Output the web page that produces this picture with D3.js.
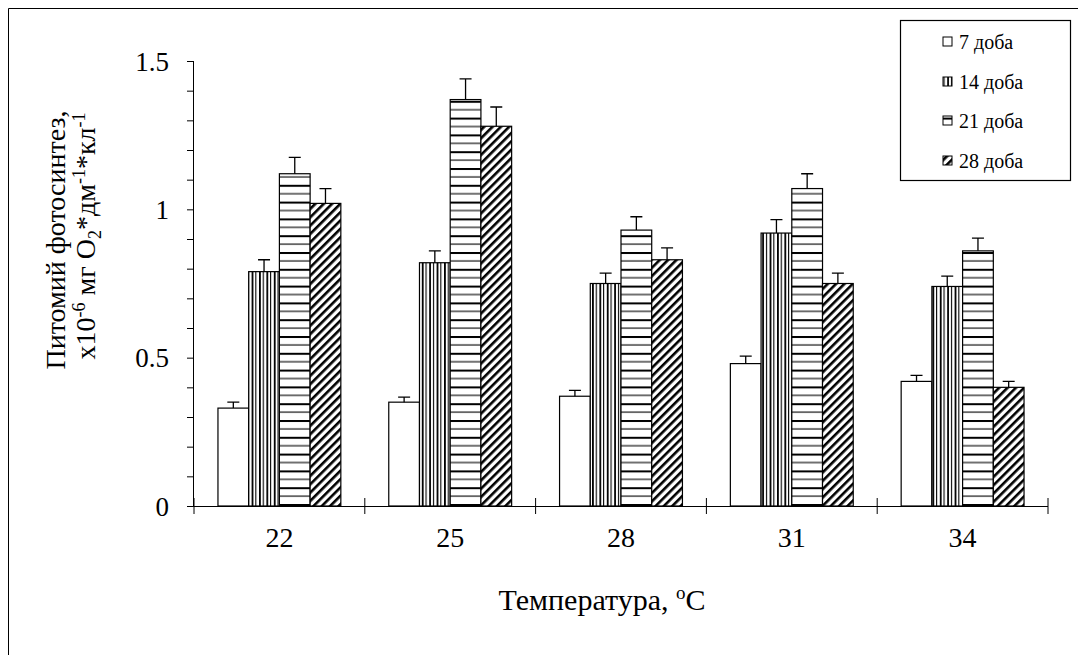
<!DOCTYPE html>
<meta charset="utf-8">
<body style="margin:0;background:#fff">
<script src="https://d3js.org/d3.v7.min.js"></script>
<script>

// data
var temps = ["22", "25", "28", "31", "34"];
var series = ["7 доба", "14 доба", "21 доба", "28 доба"];
var day7  = [0.33, 0.35, 0.37, 0.48, 0.42];
var day14 = [0.79, 0.82, 0.75, 0.92, 0.74];
var day21 = [1.12, 1.37, 0.93, 1.07, 0.86];
var day28 = [1.02, 1.28, 0.83, 0.75, 0.40];
var err7  = [0.02, 0.017, 0.02, 0.025, 0.02];
var err14 = [0.04, 0.04, 0.035, 0.045, 0.035];
var err21 = [0.055, 0.07, 0.045, 0.05, 0.043];
var err28 = [0.05, 0.065, 0.04, 0.035, 0.02];
var yTicks = [0, 0.5, 1, 1.5];

var values = [day7, day14, day21, day28];
var errors = [err7, err14, err21, err28];
var fills = ["#fff", "url(#vert)", "url(#horiz)", "url(#diag)"];

var W = 1078, H = 655;
var margin = {left: 194, right: 30, top: 61, bottom: 149};

var svg = d3.select("body").append("svg")
    .attr("width", W)
    .attr("height", H)
    .style("font-family", "'Liberation Serif', 'Times New Roman', serif");

// patterns
var defs = svg.append("defs");
defs.append("pattern").attr("id", "vert")
    .attr("patternUnits", "userSpaceOnUse").attr("width", 7.4).attr("height", 10)
  .call(function(p) {
    p.append("rect").attr("width", 7.4).attr("height", 10).attr("fill", "#fff");
    p.append("rect").attr("x", 0).attr("width", 1.8).attr("height", 10).attr("fill", "#000");
    p.append("rect").attr("x", 3.7).attr("width", 1.1).attr("height", 10).attr("fill", "#000");
  });
defs.append("pattern").attr("id", "horiz")
    .attr("patternUnits", "userSpaceOnUse").attr("width", 10).attr("height", 16.8)
  .call(function(p) {
    p.append("rect").attr("width", 10).attr("height", 16.8).attr("fill", "#fff");
    p.append("rect").attr("y", 0).attr("width", 10).attr("height", 2).attr("fill", "#000");
    p.append("rect").attr("y", 8.4).attr("width", 10).attr("height", 1.1).attr("fill", "#000");
  });
defs.append("pattern").attr("id", "diag")
    .attr("patternUnits", "userSpaceOnUse").attr("width", 5.9).attr("height", 5.9)
    .attr("patternTransform", "rotate(45)")
  .call(function(p) {
    p.append("rect").attr("width", 5.9).attr("height", 5.9).attr("fill", "#fff");
    p.append("rect").attr("width", 2.6).attr("height", 5.9).attr("fill", "#000");
  });

// outer frame (right and bottom edges fall outside the picture)
svg.append("path")
    .attr("d", "M8.5," + (H + 5) + "V8.5H" + (W + 5))
    .attr("fill", "none").attr("stroke", "#000").attr("stroke-width", 1);

var x = d3.scaleBand().domain(temps).range([margin.left, W - margin.right]);
var xs = d3.scaleBand().domain(d3.range(series.length))
    .range([0, x.bandwidth()]).paddingOuter(0.78).paddingInner(0);
var y = d3.scaleLinear().domain([0, 1.5]).range([H - margin.bottom, margin.top]);

// bars
series.forEach(function(s, i) {
  var g = svg.append("g");
  g.selectAll("rect").data(temps).enter().append("rect")
      .attr("x", function(t) { return x(t) + xs(i); })
      .attr("y", function(t, j) { return y(values[i][j]); })
      .attr("width", xs.bandwidth())
      .attr("height", function(t, j) { return y(0) - y(values[i][j]); })
      .attr("fill", fills[i])
      .attr("stroke", "#000").attr("stroke-width", 1.2);
  // error bars
  g.selectAll("path").data(temps).enter().append("path")
      .attr("d", function(t, j) {
        var cx = x(t) + xs(i) + xs.bandwidth() / 2;
        var y0 = y(values[i][j]), y1 = y(values[i][j] + errors[i][j]);
        return "M" + cx + "," + y0 + "V" + y1 + "M" + (cx - 6) + "," + y1 + "H" + (cx + 6);
      })
      .attr("fill", "none").attr("stroke", "#000").attr("stroke-width", 1.3);
});

// y axis
var yAxis = svg.append("g")
    .attr("transform", "translate(" + margin.left + ",0)")
    .call(d3.axisLeft(y).tickValues(d3.range(0, 1.51, 0.1)).tickSize(7)
      .tickFormat(function(d) {
        var r = Math.round(d * 10) / 10;
        return yTicks.indexOf(r) >= 0 ? d3.format("")(r) : "";
      }))
    .attr("font-family", null).attr("font-size", null);
yAxis.select(".domain").attr("d", "M-0.5," + y(1.5) + "V" + y(0));
yAxis.selectAll("text").attr("x", -25).attr("dy", "0.34em")
    .style("font-size", "27px").attr("fill", "#000");

// x axis
var xAxis = svg.append("g")
    .attr("transform", "translate(0," + y(0) + ")")
    .call(d3.axisBottom(x).tickSize(0).tickPadding(21))
    .attr("font-family", null).attr("font-size", null);
xAxis.select(".domain").attr("d", "M" + (margin.left - 7) + ",0.5H" + (W - margin.right));
xAxis.selectAll("text").style("font-size", "28px");
var edges = temps.map(function(t) { return x(t); }).concat([W - margin.right]);
xAxis.selectAll(".edge").data(edges).enter().append("line")
    .attr("x1", function(d) { return d; }).attr("x2", function(d) { return d; })
    .attr("y1", -8).attr("y2", 8).attr("stroke", "#000");

// axis titles
var xt = svg.append("text")
    .attr("x", 602).attr("y", 610)
    .attr("text-anchor", "middle").style("font-size", "30px");
xt.append("tspan").text("Температура, ");
xt.append("tspan").attr("dy", -11).style("font-size", "19px").text("o");
xt.append("tspan").attr("dy", 11).text("C");

var yl = svg.append("text")
    .attr("transform", "translate(65,240) rotate(-90)")
    .attr("text-anchor", "middle").style("font-size", "28px");
yl.append("tspan").attr("x", 0).attr("y", 0).text("Питомий фотосинтез,");
var l2 = svg.append("text")
    .attr("transform", "translate(95,236) rotate(-90)")
    .attr("text-anchor", "middle").style("font-size", "28px");
l2.append("tspan").text("x10");
l2.append("tspan").attr("dy", -10).style("font-size", "18px").text("-6");
l2.append("tspan").attr("dy", 10).text(" мг O");
l2.append("tspan").attr("dy", 6).style("font-size", "18px").text("2");
l2.append("tspan").attr("dy", -6).text("*дм");
l2.append("tspan").attr("dy", -10).style("font-size", "18px").text("-1");
l2.append("tspan").attr("dy", 10).text("*кл");
l2.append("tspan").attr("dy", -10).style("font-size", "18px").text("-1");

// legend
var lg = svg.append("g");
lg.append("rect").attr("x", 900.5).attr("y", 20.5).attr("width", 170).attr("height", 160)
    .attr("fill", "#fff").attr("stroke", "#000").attr("stroke-width", 1.2);
var rows = [42, 82, 121, 161];
series.forEach(function(s, i) {
  lg.append("rect").attr("x", 943).attr("y", rows[i] - 5).attr("width", 9).attr("height", 9)
      .attr("fill", fills[i]).attr("stroke", "#000").attr("stroke-width", 1);
  lg.append("text").attr("x", 959).attr("y", rows[i]).attr("dy", "0.35em")
      .style("font-size", "20px").text(s);
});

</script>
</body>
